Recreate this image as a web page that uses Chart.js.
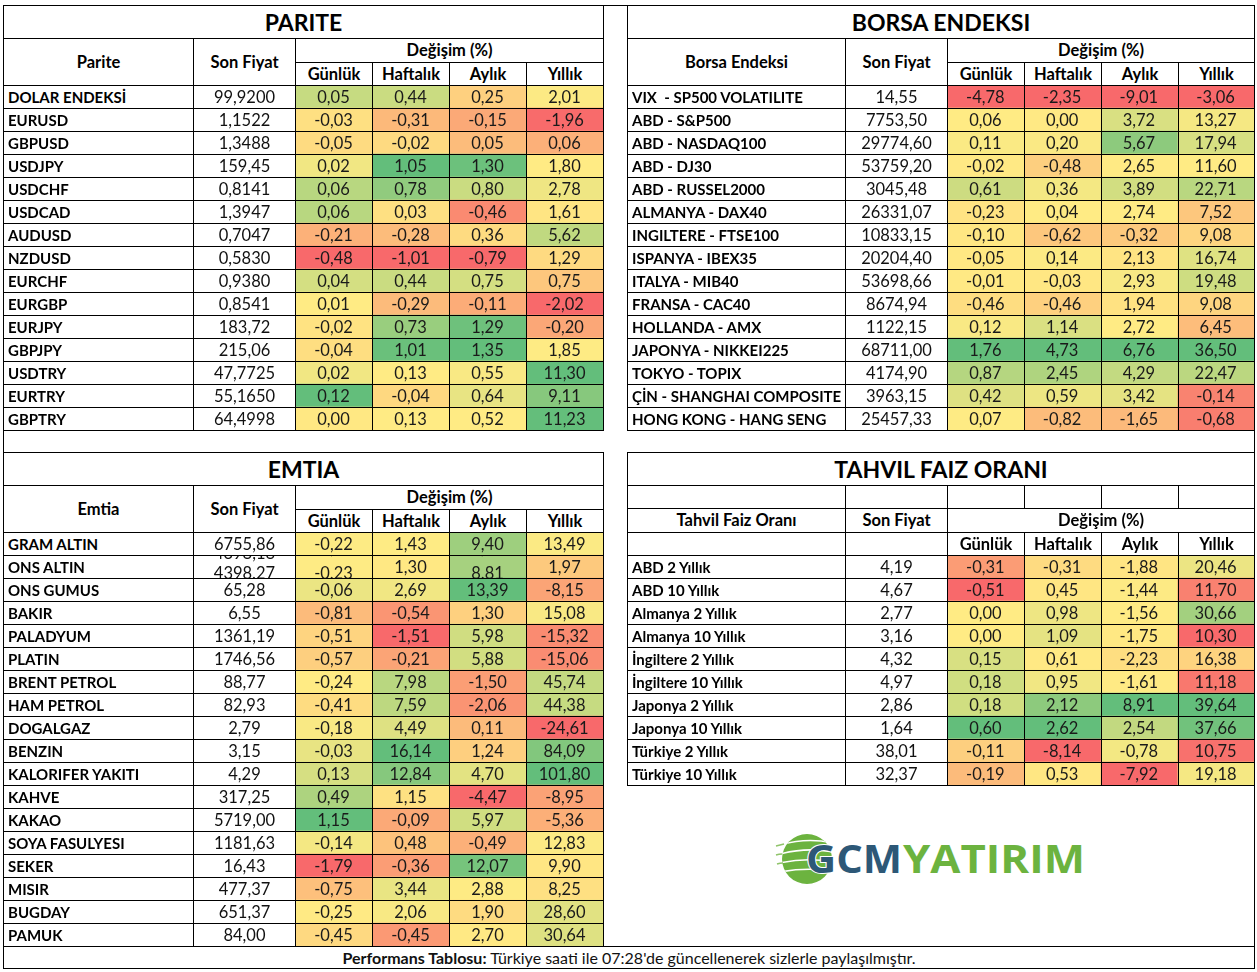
<!DOCTYPE html>
<html lang="tr">
<head>
  <meta charset="UTF-8" />
  <title>Performans Tablosu</title>
  <script src="https://cdn.jsdelivr.net/npm/chart.js"></script>
  <style>
    body { margin: 0; background: #fff; }
    #page { position: relative; width: 1257px; height: 972px; overflow: hidden; font-family: Lato, 'Open Sans', sans-serif; color: #000; }
    .c { position: absolute; box-sizing: border-box; border: 1px solid #000; text-align: center; white-space: pre; overflow: hidden; font-size: 16.5px; color: #111; }
    .t { font-weight: 700; font-size: 23px; color: #000; }
    .b { font-weight: 700; color: #000; }
    .n { font-weight: 700; font-size: 15px; text-align: left; padding-left: 4px; color: #000; }
    .f { font-size: 16px; }
    canvas { position: absolute; }
  </style>
</head>
<body>
<div id="page"></div>

<script>
  const changeLabels = ['Günlük', 'Haftalık', 'Aylık', 'Yıllık'];

  // PARITE
  const pariteNames = ['DOLAR ENDEKSİ', 'EURUSD', 'GBPUSD', 'USDJPY', 'USDCHF', 'USDCAD', 'AUDUSD', 'NZDUSD', 'EURCHF', 'EURGBP', 'EURJPY', 'GBPJPY', 'USDTRY', 'EURTRY', 'GBPTRY'];
  const paritePrices = ['99,9200', '1,1522', '1,3488', '159,45', '0,8141', '1,3947', '0,7047', '0,5830', '0,9380', '0,8541', '183,72', '215,06', '47,7725', '55,1650', '64,4998'];
  const pariteDaily = [0.05, -0.03, -0.05, 0.02, 0.06, 0.06, -0.21, -0.48, 0.04, 0.01, -0.02, -0.04, 0.02, 0.12, 0.00];
  const pariteWeekly = [0.44, -0.31, -0.02, 1.05, 0.78, 0.03, -0.28, -1.01, 0.44, -0.29, 0.73, 1.01, 0.13, -0.04, 0.13];
  const pariteMonthly = [0.25, -0.15, 0.05, 1.30, 0.80, -0.46, 0.36, -0.79, 0.75, -0.11, 1.29, 1.35, 0.55, 0.64, 0.52];
  const pariteYearly = [2.01, -1.96, 0.06, 1.80, 2.78, 1.61, 5.62, 1.29, 0.75, -2.02, -0.20, 1.85, 11.30, 9.11, 11.23];

  // BORSA ENDEKSI
  const borsaNames = ['VIX  - SP500 VOLATILITE', 'ABD - S&P500', 'ABD - NASDAQ100', 'ABD - DJ30', 'ABD - RUSSEL2000', 'ALMANYA - DAX40', 'INGILTERE - FTSE100', 'ISPANYA - IBEX35', 'ITALYA - MIB40', 'FRANSA - CAC40', 'HOLLANDA - AMX', 'JAPONYA - NIKKEI225', 'TOKYO - TOPIX', 'ÇİN - SHANGHAI COMPOSITE', 'HONG KONG - HANG SENG'];
  const borsaPrices = ['14,55', '7753,50', '29774,60', '53759,20', '3045,48', '26331,07', '10833,15', '20204,40', '53698,66', '8674,94', '1122,15', '68711,00', '4174,90', '3963,15', '25457,33'];
  const borsaDaily = [-4.78, 0.06, 0.11, -0.02, 0.61, -0.23, -0.10, -0.05, -0.01, -0.46, 0.12, 1.76, 0.87, 0.42, 0.07];
  const borsaWeekly = [-2.35, 0.00, 0.20, -0.48, 0.36, 0.04, -0.62, 0.14, -0.03, -0.46, 1.14, 4.73, 2.45, 0.59, -0.82];
  const borsaMonthly = [-9.01, 3.72, 5.67, 2.65, 3.89, 2.74, -0.32, 2.13, 2.93, 1.94, 2.72, 6.76, 4.29, 3.42, -1.65];
  const borsaYearly = [-3.06, 13.27, 17.94, 11.60, 22.71, 7.52, 9.08, 16.74, 19.48, 9.08, 6.45, 36.50, 22.47, -0.14, -0.68];

  // EMTIA
  const emtiaNames = ['GRAM ALTIN', 'ONS ALTIN', 'ONS GUMUS', 'BAKIR', 'PALADYUM', 'PLATIN', 'BRENT PETROL', 'HAM PETROL', 'DOGALGAZ', 'BENZIN', 'KALORIFER YAKITI', 'KAHVE', 'KAKAO', 'SOYA FASULYESI', 'SEKER', 'MISIR', 'BUGDAY', 'PAMUK'];
  const emtiaPrices = ['6755,86', '4398.27', '65,28', '6,55', '1361,19', '1746,56', '88,77', '82,93', '2,79', '3,15', '4,29', '317,25', '5719,00', '1181,63', '16,43', '477,37', '651,37', '84,00'];
  const emtiaDaily = [-0.22, -0.23, -0.06, -0.81, -0.51, -0.57, -0.24, -0.41, -0.18, -0.03, 0.13, 0.49, 1.15, -0.14, -1.79, -0.75, -0.25, -0.45];
  const emtiaWeekly = [1.43, 1.30, 2.69, -0.54, -1.51, -0.21, 7.98, 7.59, 4.49, 16.14, 12.84, 1.15, -0.09, 0.48, -0.36, 3.44, 2.06, -0.45];
  const emtiaMonthly = [9.40, 8.81, 13.39, 1.30, 5.98, 5.88, -1.50, -2.06, 0.11, 1.24, 4.70, -4.47, 5.97, -0.49, 12.07, 2.88, 1.90, 2.70];
  const emtiaYearly = [13.49, 1.97, -8.15, 15.08, -15.32, -15.06, 45.74, 44.38, -24.61, 84.09, 101.80, -8.95, -5.36, 12.83, 9.90, 8.25, 28.60, 30.64];
  // the ONS ALTIN row is drawn over an older value in the source sheet
  const emtiaGhost = ['4398,18', '-0,24', null, '8,80', null];

  // TAHVIL FAIZ ORANI
  const tahvilNames = ['ABD 2 Yıllık', 'ABD 10 Yıllık', 'Almanya 2 Yıllık', 'Almanya 10 Yıllık', 'İngiltere 2 Yıllık', 'İngiltere 10 Yıllık', 'Japonya 2 Yıllık', 'Japonya 10 Yıllık', 'Türkiye 2 Yıllık', 'Türkiye 10 Yıllık'];
  const tahvilPrices = ['4,19', '4,67', '2,77', '3,16', '4,32', '4,97', '2,86', '1,64', '38,01', '32,37'];
  const tahvilDaily = [-0.31, -0.51, 0.00, 0.00, 0.15, 0.18, 0.18, 0.60, -0.11, -0.19];
  const tahvilWeekly = [-0.31, 0.45, 0.98, 1.09, 0.61, 0.95, 2.12, 2.62, -8.14, 0.53];
  const tahvilMonthly = [-1.88, -1.44, -1.56, -1.75, -2.23, -1.61, 8.91, 2.54, -0.78, -7.92];
  const tahvilYearly = [20.46, 11.70, 30.66, 10.30, 16.38, 11.18, 39.64, 37.66, 10.75, 19.18];

  // column edges and row height of the sheet
  const LEFT = [3, 193, 295, 372, 449, 526, 603];
  const RIGHT = [627, 845, 947, 1024, 1101, 1178, 1254];
  const ROW = 23;

  const page = document.getElementById('page');

  // excel style 3 colour scale: min red, median yellow, max green
  const RED = [248, 105, 107], YEL = [255, 235, 132], GRN = [99, 190, 123];
  function median(a) {
    const s = [...a].sort((p, q) => p - q), m = (s.length - 1) / 2;
    return (s[Math.floor(m)] + s[Math.ceil(m)]) / 2;
  }
  function heatColor(v, vals) {
    const lo = Math.min(...vals), hi = Math.max(...vals), mid = median(vals);
    let a, b, t;
    if (v <= mid) { a = RED; b = YEL; t = mid === lo ? 1 : (v - lo) / (mid - lo); }
    else { a = YEL; b = GRN; t = hi === mid ? 0 : (v - mid) / (hi - mid); }
    return `rgb(${a.map((c, i) => Math.round(c + (b[i] - c) * t)).join(',')})`;
  }
  const fmt = v => v.toFixed(2).replace('.', ',');

  function box(x0, y0, x1, y1, text, cls) {
    const d = document.createElement('div');
    d.className = 'c ' + (cls || '');
    d.style.left = x0 + 'px';
    d.style.top = y0 + 'px';
    d.style.width = (x1 - x0 + 1) + 'px';
    d.style.height = (y1 - y0 + 1) + 'px';
    d.style.lineHeight = (y1 - y0 - 1) + 'px';
    d.textContent = text;
    page.appendChild(d);
    return d;
  }

  const cellText = {
    id: 'cellText',
    afterDatasetsDraw(chart, args, opts) {
      const ctx = chart.ctx, ghost = opts.ghost;
      ctx.save();
      ctx.font = '16.5px Lato, "Open Sans", sans-serif';
      ctx.textAlign = 'center';
      ctx.fillStyle = '#1a1a1a';
      chart.data.datasets.forEach((ds, k) => {
        chart.getDatasetMeta(k).data.forEach((bar, i) => {
          const p = bar.getProps(['x', 'base', 'y', 'height'], true);
          const cx = (p.x + p.base) / 2, by = p.y + 6;
          if (ghost && i === opts.ghostRow && ghost[k + 1]) {
            ctx.save();
            ctx.beginPath();
            ctx.rect(p.base, p.y - p.height / 2, p.x - p.base, p.height);
            ctx.clip();
            ctx.fillText(ghost[k + 1], cx, by - 19);
            ctx.fillText(ds.values[i].toFixed(2), cx, by + 6);
            ctx.restore();
          } else {
            ctx.fillText(fmt(ds.values[i]), cx, by);
          }
        });
      });
      ctx.restore();
    }
  };

  function buildTable(o) {
    const X = o.cols;
    let y = o.top;
    box(X[0], y, X[6], y + 33, o.title, 't');
    y += 33;
    if (o.spacer) {
      for (let k = 0; k < 6; k++) box(X[k], y, X[k + 1], y + 23, '');
      y += 23;
      box(X[0], y, X[1], y + 24, o.head, 'b');
      box(X[1], y, X[2], y + 24, 'Son Fiyat', 'b');
      box(X[0], y + 24, X[1], y + 47, '');
      box(X[1], y + 24, X[2], y + 47, '');
    } else {
      box(X[0], y, X[1], y + 47, o.head, 'b');
      box(X[1], y, X[2], y + 47, 'Son Fiyat', 'b');
    }
    box(X[2], y, X[6], y + 24, 'Değişim (%)', 'b');
    changeLabels.forEach((l, k) => box(X[2 + k], y + 24, X[3 + k], y + 47, l, 'b'));
    y += 47;

    const cv = document.createElement('canvas');
    const w = X[6] - X[2], h = o.names.length * ROW;
    cv.width = w; cv.height = h;
    cv.style.left = X[2] + 'px'; cv.style.top = y + 'px';
    cv.style.width = w + 'px'; cv.style.height = h + 'px';
    page.appendChild(cv);

    new Chart(cv, {
      type: 'bar',
      data: {
        labels: o.names,
        datasets: o.changes.map((vals, k) => ({
          label: changeLabels[k],
          data: vals.map(() => 1),
          values: vals,
          backgroundColor: vals.map(v => heatColor(v, vals)),
          borderWidth: 0,
          barPercentage: 1,
          categoryPercentage: 1
        }))
      },
      options: {
        indexAxis: 'y',
        responsive: false,
        animation: false,
        events: [],
        layout: { padding: 0 },
        plugins: {
          legend: { display: false },
          tooltip: { enabled: false },
          cellText: { ghost: o.ghost || null, ghostRow: 1 }
        },
        scales: {
          x: { display: false, stacked: true, min: 0, max: 4 },
          y: { display: false, stacked: true }
        }
      },
      plugins: [cellText]
    });

    o.names.forEach((nm, i) => {
      const r = y + i * ROW;
      box(X[0], r, X[1], r + ROW, nm, 'n');
      const pc = box(X[1], r, X[2], r + ROW, o.prices[i]);
      if (o.ghost && i === 1) {
        pc.textContent = '';
        pc.innerHTML = `<span style="position:absolute;left:0;right:0;top:-14px">${o.ghost[0]}</span>` +
                       `<span style="position:absolute;left:0;right:0;top:6px">${o.prices[i]}</span>`;
      }
      for (let k = 2; k < 6; k++) box(X[k], r, X[k + 1], r + ROW, '');
    });
  }

  // outer frame and footer
  box(3, 5, 1254, 968, '');
  const foot = box(3, 946, 1254, 968, '', 'f');
  foot.innerHTML = "<b>Performans Tablosu:</b> Türkiye saati ile 07:28'de güncellenerek sizlerle paylaşılmıştır.";

  buildTable({ cols: LEFT, top: 5, title: 'PARITE', head: 'Parite', names: pariteNames, prices: paritePrices,
    changes: [pariteDaily, pariteWeekly, pariteMonthly, pariteYearly] });
  buildTable({ cols: RIGHT, top: 5, title: 'BORSA ENDEKSI', head: 'Borsa Endeksi', names: borsaNames, prices: borsaPrices,
    changes: [borsaDaily, borsaWeekly, borsaMonthly, borsaYearly] });
  buildTable({ cols: LEFT, top: 452, title: 'EMTIA', head: 'Emtia', names: emtiaNames, prices: emtiaPrices,
    changes: [emtiaDaily, emtiaWeekly, emtiaMonthly, emtiaYearly], ghost: emtiaGhost });
  buildTable({ cols: RIGHT, top: 452, title: 'TAHVIL FAIZ ORANI', head: 'Tahvil Faiz Oranı', names: tahvilNames, prices: tahvilPrices,
    changes: [tahvilDaily, tahvilWeekly, tahvilMonthly, tahvilYearly], spacer: true });

  // logo
  const logo = document.createElement('div');
  logo.style.cssText = 'position:absolute;left:760px;top:825px;width:340px;height:70px';
  logo.innerHTML = `
    <svg width="340" height="70" xmlns="http://www.w3.org/2000/svg">
      <defs><clipPath id="globe"><circle cx="47" cy="34" r="25"/></clipPath></defs>
      <circle cx="47" cy="34" r="25" fill="#6cb33f"/>
      <g clip-path="url(#globe)" fill="none" stroke="#fff" stroke-width="1.6">
        <path d="M20 20 Q46 12 74 18"/>
        <path d="M20 29 Q46 22 74 27"/>
        <path d="M20 38 Q46 32 74 37"/>
        <path d="M20 47 Q46 42 74 46"/>
      </g>
      <g fill="none" stroke="#8fc46a" stroke-width="1.4">
        <path d="M16 21 Q20 20 24 19"/>
        <path d="M16 30 Q19 29 22 29"/>
        <path d="M17 39 Q20 38 23 38"/>
      </g>
      <text x="46" y="48" textLength="96" lengthAdjust="spacingAndGlyphs" font-family="Open Sans, sans-serif" font-weight="700" font-size="39" fill="#2d5877" stroke="#fff" stroke-width="2" paint-order="stroke">GCM</text>
      <text x="143" y="48" textLength="182" lengthAdjust="spacingAndGlyphs" font-family="Open Sans, sans-serif" font-weight="700" font-size="39" fill="#6cb33f">YATIRIM</text>
    </svg>`;
  page.appendChild(logo);
</script>
</body>
</html>
